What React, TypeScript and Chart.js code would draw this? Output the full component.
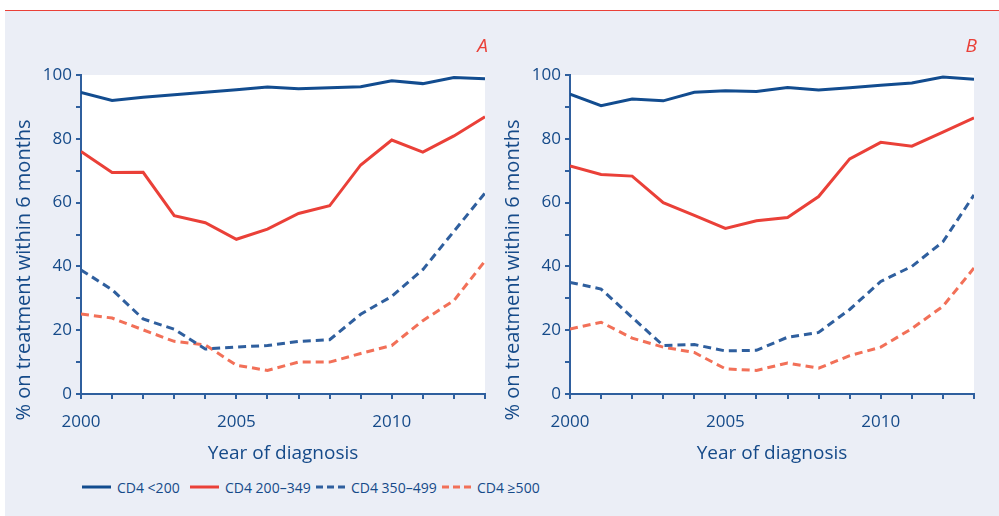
import React, { useEffect, useRef } from "react";
import { Chart, registerables } from "chart.js";

Chart.register(...registerables);

const years = [2000, 2001, 2002, 2003, 2004, 2005, 2006, 2007, 2008, 2009, 2010, 2011, 2012, 2013];
const xTickLabels = [2000, 2005, 2010];
const yTickLabels = [0, 20, 40, 60, 80, 100];

const seriesNames = ["CD4 <200", "CD4 200\u2013349", "CD4 350\u2013499", "CD4 \u2265500"];

// Panel A
const aLt200 = [94.5, 92, 93, 93.8, 94.6, 95.4, 96.2, 95.7, 96, 96.3, 98.2, 97.3, 99.2, 98.8];
const a200to349 = [76, 69.4, 69.5, 55.9, 53.7, 48.5, 51.7, 56.6, 59, 71.8, 79.6, 75.8, 80.9, 86.9];
const a350to499 = [38.9, 32.7, 23.5, 20.3, 14.1, 14.7, 15.2, 16.5, 17, 25, 30.6, 39, 51, 63];
const aGe500 = [25.1, 23.8, 20.1, 16.5, 15.4, 9, 7.4, 10, 10, 12.7, 15.2, 23, 29.3, 41.7];

// Panel B
const bLt200 = [94, 90.4, 92.5, 91.9, 94.6, 95.1, 94.8, 96.1, 95.3, 96, 96.8, 97.5, 99.4, 98.7];
const b200to349 = [71.5, 68.8, 68.3, 60, 56, 51.9, 54.3, 55.3, 61.9, 73.7, 78.9, 77.7, 82.1, 86.6];
const b350to499 = [35, 32.9, 24, 15.2, 15.5, 13.5, 13.7, 17.8, 19.3, 26.5, 35.3, 40, 47.7, 62.4];
const bGe500 = [20.4, 22.5, 17.5, 14.7, 13, 7.9, 7.4, 9.7, 8.1, 12, 14.7, 20.5, 27.5, 39.5];

const DARK = "#124c8f";
const RED = "#ea4038";
const DBLUE = "#2f5f9e";
const SALMON = "#f27058";
const TEXT = "#154a89";
const BG = "#ebeef6";
const FONT = "'Open Sans', sans-serif";

const seriesColors = [DARK, RED, DBLUE, SALMON];
const seriesDash: number[][] = [[], [], [8, 5], [8, 5]];

const bgPlugin = {
  id: "plotBg",
  beforeDraw(chart: any) {
    const { ctx, chartArea } = chart;
    ctx.save();
    ctx.fillStyle = "#ffffff";
    ctx.fillRect(chartArea.left, chartArea.top, chartArea.right - chartArea.left, chartArea.bottom - chartArea.top);
    ctx.restore();
  },
};

const yTitlePlugin = {
  id: "yTitle",
  afterDraw(chart: any) {
    const { ctx, chartArea } = chart;
    ctx.save();
    ctx.translate(chartArea.left - 57, chartArea.bottom - 124);
    ctx.rotate(-Math.PI / 2);
    ctx.fillStyle = TEXT;
    ctx.font = `20px ${FONT}`;
    ctx.textAlign = "center";
    ctx.textBaseline = "middle";
    ctx.fillText("% on treatment within 6 months", 0, 0);
    ctx.restore();
  },
};

function Panel({ series, left }: { series: number[][]; left: number }) {
  const ref = useRef<HTMLCanvasElement>(null);
  useEffect(() => {
    if (!ref.current) return;
    const chart = new Chart(ref.current, {
      type: "line",
      data: {
        datasets: series.map((s, i) => ({
          label: seriesNames[i],
          data: s.map((v, j) => ({ x: years[j], y: v })),
          borderColor: seriesColors[i],
          borderWidth: 3,
          borderDash: seriesDash[i],
          pointRadius: 0,
          tension: 0,
          fill: false,
        })),
      },
      options: {
        responsive: false,
        animation: false,
        devicePixelRatio: 1,
        layout: { padding: { top: 75, right: 10, left: 0, bottom: 0 } },
        plugins: { legend: { display: false }, tooltip: { enabled: false } },
        scales: {
          x: {
            type: "linear",
            min: 2000,
            max: 2013,
            afterFit: (s: any) => { s.height = 76; s.paddingRight = 0; s.paddingLeft = 0; },
            ticks: {
              stepSize: 1,
              autoSkip: false,
              maxRotation: 0,
              padding: 13,
              color: TEXT,
              font: { family: FONT, size: 17 },
              callback: (v: any) => (xTickLabels.includes(Number(v)) ? String(v) : ""),
            },
            grid: { drawOnChartArea: false, drawTicks: true, tickLength: 5, color: DBLUE, lineWidth: 2 },
            border: { display: true, color: DBLUE, width: 2 },
            title: {
              display: true,
              text: "Year of diagnosis",
              color: TEXT,
              font: { family: FONT, size: 19 },
              padding: { top: 0, bottom: 5 },
            },
          },
          y: {
            min: 0,
            max: 100,
            afterFit: (s: any) => { s.width = 81; s.paddingTop = 0; s.paddingBottom = 0; },
            ticks: {
              stepSize: 10,
              autoSkip: false,
              padding: 4,
              color: TEXT,
              font: { family: FONT, size: 17 },
              callback: (v: any) => (yTickLabels.includes(Number(v)) ? String(v) : ""),
            },
            grid: { drawOnChartArea: false, drawTicks: true, tickLength: 5, color: DBLUE, lineWidth: 2 },
            border: { display: true, color: DBLUE, width: 2 },
          },
        },
      },
      plugins: [bgPlugin, yTitlePlugin],
    } as any);
    return () => chart.destroy();
  }, []);
  return (
    <canvas
      ref={ref}
      width={495}
      height={470}
      style={{ position: "absolute", left, top: 0, width: 495, height: 470 }}
    />
  );
}

function LegendLine({ color, dash }: { color: string; dash: number[] }) {
  return (
    <svg width={30} height={6} style={{ display: "block" }}>
      <line x1={0} y1={3} x2={29} y2={3} stroke={color} strokeWidth={3} strokeDasharray={dash.length ? "7 4" : undefined} />
    </svg>
  );
}

export default function App() {
  const legendPos = [82, 190, 316, 442];
  return (
    <div style={{ position: "absolute", left: 0, top: 0, width: 999, height: 516, background: "#fff", overflow: "hidden" }}>
      <div style={{ position: "absolute", left: 5, top: 11, width: 994, height: 505, background: BG }} />
      <div style={{ position: "absolute", left: 5, top: 9.5, width: 994, height: 1.5, background: RED }} />
      <Panel series={[aLt200, a200to349, a350to499, aGe500]} left={0} />
      <Panel series={[bLt200, b200to349, b350to499, bGe500]} left={489} />
      <div style={{ position: "absolute", right: 999 - 488, top: 33, color: RED, fontFamily: FONT, fontStyle: "italic", fontSize: 19, lineHeight: "24px" }}>A</div>
      <div style={{ position: "absolute", right: 999 - 977, top: 33, color: RED, fontFamily: FONT, fontStyle: "italic", fontSize: 19, lineHeight: "24px" }}>B</div>
      {seriesNames.map((n, i) => (
        <div
          key={n}
          style={{
            position: "absolute",
            left: legendPos[i],
            top: 477,
            height: 20,
            display: "flex",
            alignItems: "center",
            gap: 5,
            color: TEXT,
            fontFamily: FONT,
            fontSize: 14,
            whiteSpace: "nowrap",
          }}
        >
          <LegendLine color={seriesColors[i]} dash={seriesDash[i]} />
          <span>{n}</span>
        </div>
      ))}
    </div>
  );
}
